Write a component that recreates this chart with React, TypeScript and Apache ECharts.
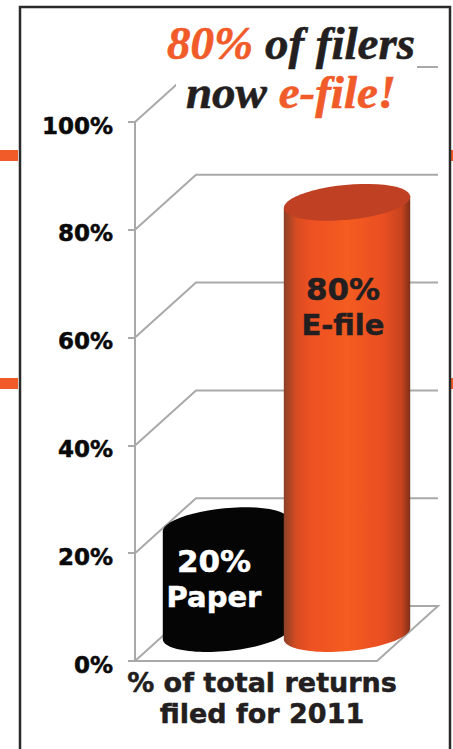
import React, { useEffect, useRef } from "react";
import * as echarts from "echarts";

const categories = ["Paper", "E-file"];
const shares = [20, 80];
const barTexts = ["{n|20%}\n{t|Paper}", "{n|80%}\n{t|E-file}"];
const wallLevels = [0, 20, 40, 60, 80, 100];
const titleText = "{o|80% }{k|of filers}\n{k|now }{o|e-file!}";
const axisTitle = "% of total returns\nfiled for 2011";

const DEPTH_X = 61;
const DEPTH_Y = 55;
const RX = 63.5;
const RY = 17.5;
const TILT = (-5.5 * Math.PI) / 180;
const GRAY = "#a9a9a9";
const ORANGE = "#f15a29";
const SANS = "DejaVu Sans";
const SERIF = "Liberation Serif";

const ell = (cx: number, cy: number, t: number) => {
  const x = RX * Math.cos(t);
  const y = RY * Math.sin(t);
  return [cx + x * Math.cos(TILT) - y * Math.sin(TILT), cy + x * Math.sin(TILT) + y * Math.cos(TILT)];
};
const arc = (cx: number, cy: number, from: number, to: number) => {
  const pts: number[][] = [];
  for (let i = 0; i <= 48; i++) pts.push(ell(cx, cy, from + ((to - from) * i) / 48));
  return pts;
};

const bodyFills = [
  new echarts.graphic.LinearGradient(0, 0, 1, 0, [
    { offset: 0, color: "#050505" },
    { offset: 1, color: "#050505" },
  ]),
  new echarts.graphic.LinearGradient(0, 0, 1, 0, [
    { offset: 0, color: "#8c4028" },
    { offset: 0.1, color: "#d84c22" },
    { offset: 0.22, color: "#ee5122" },
    { offset: 0.5, color: "#f45c20" },
    { offset: 0.78, color: "#ea4f22" },
    { offset: 0.93, color: "#c8441f" },
    { offset: 1, color: "#7e2f18" },
  ]),
];
const topFills = ["#050505", "#bf4023"];
const labelColors = ["#ffffff", "#231f20"];
const labelNudge = [
  [-12, 53],
  [-4, 105],
];

const titleRun = (color: string) => ({
  fontFamily: SERIF,
  fontStyle: "italic",
  fontWeight: "bold",
  fontSize: 47,
  color,
  lineHeight: 49,
  textBorderColor: color,
  textBorderWidth: 0.6,
});

export default function App() {
  const ref = useRef<HTMLDivElement>(null);
  useEffect(() => {
    document.body.style.margin = "0";
    const chart = echarts.init(ref.current!, undefined, { renderer: "svg" });
    chart.setOption({
      animation: false,
      backgroundColor: "#ffffff",
      grid: { left: 135, right: 76, top: 122, bottom: 88, containLabel: false },
      title: [
        {
          text: titleText,
          left: 286,
          top: 13,
          textAlign: "center",
          z: 8,
          textStyle: { rich: { o: titleRun(ORANGE), k: titleRun("#231f20") } },
        },
        {
          text: axisTitle,
          left: 257,
          top: 662,
          textAlign: "center",
          textStyle: { fontFamily: SANS, fontWeight: "bold", fontSize: 27, lineHeight: 31, color: "#231f20", textBorderColor: "#231f20", textBorderWidth: 0.5 },
        },
      ],
      xAxis: {
        type: "category",
        data: categories,
        axisLine: { show: true, lineStyle: { color: GRAY, width: 2 } },
        axisTick: { show: false },
        axisLabel: { show: false },
        splitLine: { show: false },
      },
      yAxis: {
        type: "value",
        min: 0,
        max: 100,
        interval: 20,
        axisLine: { show: true, lineStyle: { color: GRAY, width: 2 } },
        axisTick: { show: true, length: 7, lineStyle: { color: GRAY, width: 2 } },
        axisLabel: {
          margin: 22,
          formatter: "{a|{value}%}",
          rich: {
            a: {
              fontFamily: SANS,
              fontWeight: "bold",
              fontSize: 23,
              color: "#0a0a0a",
              textBorderColor: "#0a0a0a",
              textBorderWidth: 0.5,
              padding: [7, 0, 0, 0],
            },
          },
        },
        splitLine: { show: false },
      },
      graphic: [
        { type: "rect", z: 5, shape: { x: 176, y: 24, width: 241, height: 96 }, style: { fill: "#ffffff" } },
        { type: "rect", z: 7, shape: { x: 0, y: 150, width: 18, height: 11 }, style: { fill: ORANGE } },
        { type: "rect", z: 7, shape: { x: 0, y: 378, width: 18, height: 11 }, style: { fill: ORANGE } },
        { type: "rect", z: 7, shape: { x: 451, y: 150, width: 2, height: 11 }, style: { fill: ORANGE } },
        { type: "rect", z: 7, shape: { x: 451, y: 378, width: 2, height: 11 }, style: { fill: ORANGE } },
        {
          type: "polyline",
          z: 7,
          shape: { points: [[20, 760], [20, 7], [450, 7], [450, 760]] },
          style: { fill: "none", stroke: "#2b2a2b", lineWidth: 2.5 },
        },
      ],
      series: [
        {
          type: "custom",
          z: 1,
          coordinateSystem: "cartesian2d",
          data: wallLevels.map((v) => [0, v]),
          silent: true,
          renderItem: (_p: any, api: any) => {
            const level = api.value(1);
            const size = api.size([1, 0]);
            const [x0, y] = api.coord([0, level]);
            const left = x0 - size[0] / 2;
            const width = size[0] * 2;
            const pts = [
              [left, y],
              [left + DEPTH_X, y - DEPTH_Y],
              [left + width + DEPTH_X, y - DEPTH_Y],
            ];
            if (level === 0) pts.push([left + width, y]);
            return { type: "polyline", shape: { points: pts }, style: { fill: "none", stroke: GRAY, lineWidth: 2 } };
          },
        },
        {
          type: "custom",
          z: 3,
          coordinateSystem: "cartesian2d",
          data: shares.map((v, i) => [i, v]),
          silent: true,
          renderItem: (p: any, api: any) => {
            const i = p.dataIndex;
            const [x, yTop] = api.coord([api.value(0), api.value(1)]);
            const [, yBase] = api.coord([api.value(0), 0]);
            const cx = x + DEPTH_X / 2;
            const top = yTop - DEPTH_Y / 2;
            const base = yBase - DEPTH_Y / 2;
            const body = [ell(cx, top, Math.PI), ...arc(cx, base, Math.PI, 0), ell(cx, top, 0)];
            const run = (fontSize: number) => ({
              fontFamily: SANS,
              fontWeight: "bold",
              fontSize,
              lineHeight: 36,
              fill: labelColors[i],
              stroke: labelColors[i],
              lineWidth: 0.5,
            });
            return {
              type: "group",
              children: [
                { type: "polygon", shape: { points: body }, style: { fill: bodyFills[i] } },
                { type: "polygon", shape: { points: arc(cx, top, 0, Math.PI * 2) }, style: { fill: topFills[i] } },
                {
                  type: "text",
                  style: {
                    x: cx + labelNudge[i][0],
                    y: top + labelNudge[i][1],
                    text: barTexts[i],
                    align: "center",
                    verticalAlign: "middle",
                    rich: { n: run(31), t: run(29) },
                  },
                },
              ],
            };
          },
        },
      ],
    });
    return () => chart.dispose();
  }, []);
  return <div ref={ref} style={{ width: 453, height: 749 }} />;
}
